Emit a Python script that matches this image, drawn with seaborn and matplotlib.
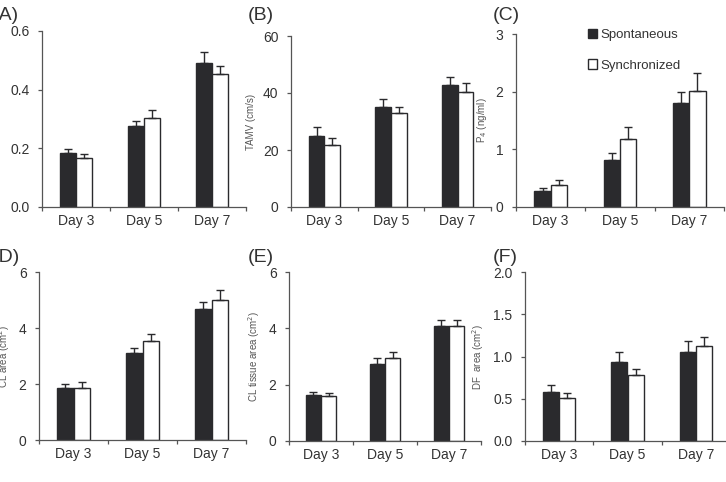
import pandas as pd
import matplotlib
matplotlib.use('Agg')
import matplotlib.pyplot as plt
import seaborn as sns
from matplotlib.patches import Patch
from matplotlib.ticker import FixedLocator, NullFormatter

# --- DATOS ---
days = ['Day 3', 'Day 5', 'Day 7']
groups = ['Spontaneous', 'Synchronized']

bfa_spon = [0.183, 0.276, 0.491]
bfa_spon_err = [0.016, 0.017, 0.037]
bfa_sync = [0.168, 0.305, 0.455]
bfa_sync_err = [0.014, 0.026, 0.026]

tamv_spon = [25.0, 35.0, 42.9]
tamv_spon_err = [3.0, 3.0, 2.7]
tamv_sync = [21.8, 33.1, 40.4]
tamv_sync_err = [2.3, 2.1, 3.1]

p4_spon = [0.27, 0.82, 1.80]
p4_spon_err = [0.06, 0.11, 0.19]
p4_sync = [0.375, 1.18, 2.01]
p4_sync_err = [0.095, 0.205, 0.31]

cl_spon = [1.84, 3.09, 4.68]
cl_spon_err = [0.17, 0.20, 0.25]
cl_sync = [1.84, 3.52, 4.99]
cl_sync_err = [0.23, 0.27, 0.37]

clt_spon = [1.63, 2.74, 4.09]
clt_spon_err = [0.12, 0.19, 0.20]
clt_sync = [1.58, 2.96, 4.10]
clt_sync_err = [0.13, 0.21, 0.21]

df_spon = [0.58, 0.94, 1.055]
df_spon_err = [0.08, 0.11, 0.125]
df_sync = [0.51, 0.78, 1.13]
df_sync_err = [0.06, 0.07, 0.10]

paneles = [
    # etiqueta, ylabel, spon, spon_err, sync, sync_err, ylim, yticks, formato, rect en pixeles (izq, der, arriba, abajo)
    ('(A)', 'BFA (cm$^2$)', bfa_spon, bfa_spon_err, bfa_sync, bfa_sync_err, 0.6, [0, 0.2, 0.4, 0.6], '{:.1f}', (42, 246, 31, 207)),
    ('(B)', 'TAMV (cm/s)', tamv_spon, tamv_spon_err, tamv_sync, tamv_sync_err, 60, [0, 20, 40, 60], '{:.0f}', (291, 491, 36, 207)),
    ('(C)', 'P$_4$ (ng/ml)', p4_spon, p4_spon_err, p4_sync, p4_sync_err, 3, [0, 1, 2, 3], '{:.0f}', (516, 724, 34, 207)),
    ('(D)', 'CL area (cm$^2$)', cl_spon, cl_spon_err, cl_sync, cl_sync_err, 6, [0, 2, 4, 6], '{:.0f}', (39, 246, 272, 440)),
    ('(E)', 'CL tissue area (cm$^2$)', clt_spon, clt_spon_err, clt_sync, clt_sync_err, 6, [0, 2, 4, 6], '{:.0f}', (289, 481, 272, 441)),
    ('(F)', 'DF  area (cm$^2$)', df_spon, df_spon_err, df_sync, df_sync_err, 2.0, [0, 0.5, 1.0, 1.5, 2.0], '{:.1f}', (525, 730, 272, 441)),
]
etiquetas_pos = [(-7, 20), (248, 20), (493, 20), (-7, 262), (248, 262), (493, 262)]

sns.set_style("white")
plt.rcParams['font.family'] = ['Liberation Sans', 'DejaVu Sans']

W, H = 726, 482
fig = plt.figure(figsize=(W / 100, H / 100), dpi=100)

oscuro = '#2a2a2d'
gris = '#555555'
texto = '#333333'

for (etq, ylab, spon, spon_e, sync, sync_e, ymax, yt, fmt, rect), (tx, ty) in zip(paneles, etiquetas_pos):
    l, r, t, b = rect
    ax = fig.add_axes([l / W, (H - b) / H, (r - l) / W, (b - t) / H])
    data = pd.DataFrame({
        'day': days * 2,
        'group': [groups[0]] * 3 + [groups[1]] * 3,
        'value': spon + sync,
    })
    sns.barplot(data=data, x='day', y='value', hue='group', order=days, hue_order=groups,
                palette=[oscuro, 'white'], edgecolor=oscuro, linewidth=1.0,
                width=0.47, gap=0, errorbar=None, legend=False, ax=ax)
    for cont, err in zip(ax.containers, [spon_e, sync_e]):
        xs = [p.get_x() + p.get_width() / 2 for p in cont]
        ys = [p.get_height() for p in cont]
        ax.errorbar(xs, ys, yerr=[[0] * 3, err], fmt='none', ecolor=oscuro,
                    elinewidth=1.0, capsize=3, capthick=1.0)
    # Ejes
    ax.set_xlim(-0.5, 2.5)
    ax.set_ylim(0, ymax)
    ax.set_yticks(yt)
    ax.set_yticklabels([fmt.format(v) for v in yt])
    ax.xaxis.set_major_locator(FixedLocator([-0.5, 0.5, 1.5, 2.5]))
    ax.xaxis.set_major_formatter(NullFormatter())
    ax.xaxis.set_minor_locator(FixedLocator([0, 1, 2]))
    ax.set_xticklabels(days, minor=True)
    ax.tick_params(axis='x', which='major', direction='out', length=3, width=0.9, color=gris, bottom=True)
    ax.tick_params(axis='x', which='minor', length=0, pad=5, labelsize=10, labelcolor=texto)
    ax.tick_params(axis='y', direction='out', length=3, width=0.9, color=gris, left=True,
                   labelsize=10, labelcolor=texto, pad=6)
    for s in ['top', 'right']:
        ax.spines[s].set_visible(False)
    for s in ['left', 'bottom']:
        ax.spines[s].set_color(gris)
        ax.spines[s].set_linewidth(0.9)
    ax.set_xlabel('')
    ax.set_ylabel(ylab, fontsize=7, color=gris, labelpad=5)
    fig.text(tx / W, (H - ty) / H, etq, fontsize=14, color=texto, ha='left', va='baseline')

    if etq == '(C)':
        handles = [Patch(facecolor=oscuro, edgecolor=oscuro, label=groups[0]),
                   Patch(facecolor='white', edgecolor=oscuro, label=groups[1])]
        ax.legend(handles=handles, loc='upper left', bbox_to_anchor=(0.29, 1.10),
                  frameon=False, fontsize=9.5, handlelength=0.7, handleheight=0.7,
                  handletextpad=0.2, labelspacing=1.4, labelcolor=texto)

fig.savefig('out.png', dpi=100)
